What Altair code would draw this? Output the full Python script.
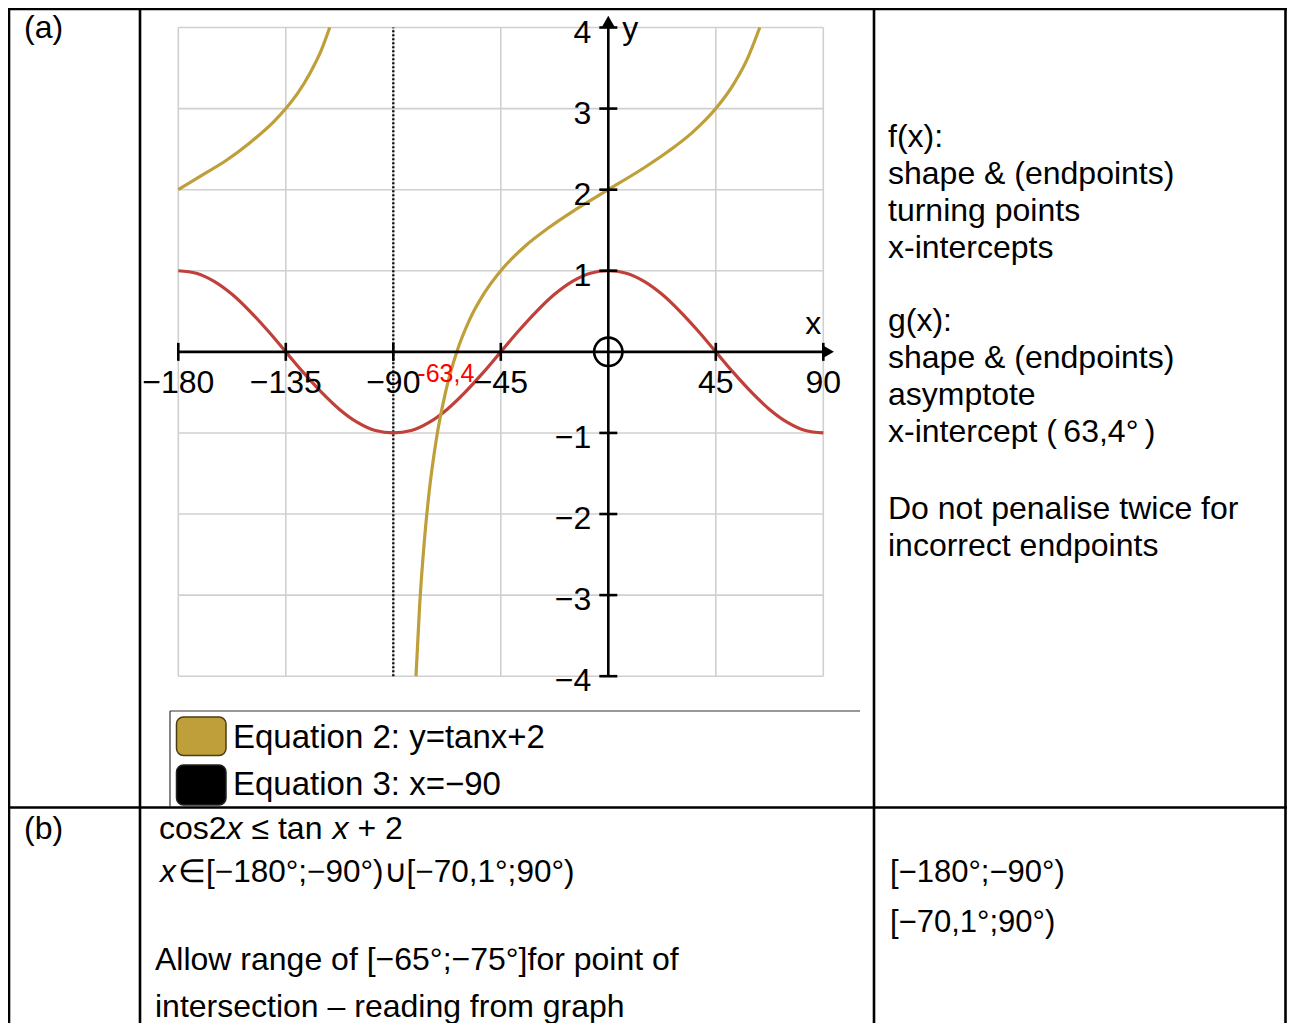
import altair as alt
import pandas as pd

# ---------------- data ----------------
grid_x = [-180, -135, -90, -45, 0, 45, 90]
grid_y = [-4, -3, -2, -1, 0, 1, 2, 3, 4]
xtick_vals = [-180, -135, -90, -45, 45, 90]
xtick_labels = ["−180", "−135", "−90", "−45", "45", "90"]
ytick_vals = [4, 3, 2, 1, -1, -2, -3, -4]
ytick_labels = ["4", "3", "2", "1", "−1", "−2", "−3", "−4"]

# f(x) = cos 2x (red curve)
cos_x = [-180, -172.5, -165, -157.5, -150, -142.5, -135, -127.5, -120, -112.5, -105, -97.5,
         -90, -82.5, -75, -67.5, -60, -52.5, -45, -37.5, -30, -22.5, -15, -7.5,
         0, 7.5, 15, 22.5, 30, 37.5, 45, 52.5, 60, 67.5, 75, 82.5, 90]
cos_y = [1.0, 0.97, 0.87, 0.71, 0.5, 0.26, 0.0, -0.26, -0.5, -0.71, -0.87, -0.97,
         -1.0, -0.97, -0.87, -0.71, -0.5, -0.26, 0.0, 0.26, 0.5, 0.71, 0.87, 0.97,
         1.0, 0.97, 0.87, 0.71, 0.5, 0.26, 0.0, -0.26, -0.5, -0.71, -0.87, -0.97, -1.0]

# g(x) = tan x + 2 (gold curve), two branches
tan_left_x = [-180, -170, -160, -150, -140, -135, -130, -125, -120, -116.6]
tan_left_y = [2.0, 2.18, 2.36, 2.58, 2.84, 3.0, 3.19, 3.43, 3.73, 4.0]
tan_right_x = [-80.5, -79, -77, -75, -72, -68, -63.4, -58, -52, -45, -35, -25,
               -15, 0, 15, 25, 35, 45, 52, 58, 63.4]
tan_right_y = [-4.0, -3.14, -2.33, -1.73, -1.08, -0.48, 0.0, 0.40, 0.72, 1.0,
               1.30, 1.53, 1.73, 2.0, 2.27, 2.47, 2.70, 3.0, 3.28, 3.60, 4.0]

asymptote_x = [-90]
intercept_x = [-63.4]
intercept_label = ["-63,4"]

legend_labels = ["Equation 2: y=tanx+2", "Equation 3: x=−90"]

f_lines = ["f(x):", "shape & (endpoints)", "turning points", "x-intercepts"]
g_lines = ["g(x):", "shape & (endpoints)", "asymptote", "x-intercept (\u200963,4°\u2009)"]
note_lines = ["Do not penalise twice for", "incorrect endpoints"]
part_a = "(a)"
part_b = "(b)"
ineq_parts = ["cos2", "x", "≤ tan", "x", "+ 2"]
set_parts = ["x", "∈[−180°;−90°)∪[−70,1°;90°)"]
allow_lines = ["Allow range of [−65°;−75°]for point of", "intersection – reading from graph"]
right_bottom_lines = ["[−180°;−90°)", "[−70,1°;90°)"]

# ---------------- styles ----------------
SANS = "Liberation Sans, Arial, sans-serif"
FS = 32
GOLD = "#BF9F3A"
RED = "#C0403A"
GRID = "#D0D0D0"

XS = alt.Scale(domain=[-180, 90], range=[170.3, 815.3], nice=False, zero=False)
YS = alt.Scale(domain=[-4, 4], range=[668.2, 19.5], nice=False, zero=False)

def X(f):
    return alt.X(f, type="quantitative", scale=XS, axis=None)

def Y(f):
    return alt.Y(f, type="quantitative", scale=YS, axis=None)

one = pd.DataFrame({"k": [0]})

# ---------------- plot layers ----------------
vgrid = pd.DataFrame({"gx": grid_x, "lo": [-4] * len(grid_x), "hi": [4] * len(grid_x)})
hgrid = pd.DataFrame({"gy": grid_y, "lo": [-180] * len(grid_y), "hi": [90] * len(grid_y)})

vgrid_l = alt.Chart(vgrid).mark_rule(color=GRID, strokeWidth=1.6).encode(
    x=X("gx"), y=Y("lo"), y2="hi")
hgrid_l = alt.Chart(hgrid).mark_rule(color=GRID, strokeWidth=1.6).encode(
    y=Y("gy"), x=X("lo"), x2="hi")

asym = pd.DataFrame({"ax": asymptote_x, "lo": [-4], "hi": [4]})
asym_l = alt.Chart(asym).mark_rule(color="#111", strokeWidth=2.4, strokeDash=[2, 2]).encode(
    x=X("ax"), y=Y("lo"), y2="hi")

xaxis = pd.DataFrame({"x0": [-180], "x1": [90], "y0": [0]})
yaxis = pd.DataFrame({"y0": [-4], "y1": [4], "x0": [0]})
xaxis_l = alt.Chart(xaxis).mark_rule(color="black", strokeWidth=2.6).encode(
    x=X("x0"), x2="x1", y=Y("y0"))
yaxis_l = alt.Chart(yaxis).mark_rule(color="black", strokeWidth=2.6).encode(
    y=Y("y0"), y2="y1", x=X("x0"))

xarrow_l = alt.Chart(pd.DataFrame({"x": [90], "y": [0]})).mark_point(
    shape="triangle-right", filled=True, size=170, color="black", opacity=1, xOffset=5).encode(
    x=X("x"), y=Y("y"))
yarrow_l = alt.Chart(pd.DataFrame({"x": [0], "y": [4]})).mark_point(
    shape="triangle-up", filled=True, size=170, color="black", opacity=1, yOffset=-6).encode(
    x=X("x"), y=Y("y"))

xt = pd.DataFrame({"x": xtick_vals, "lab": xtick_labels, "y": [0] * len(xtick_vals)})
yt = pd.DataFrame({"y": ytick_vals, "lab": ytick_labels, "x": [0] * len(ytick_vals)})

xtick_l = alt.Chart(xt).mark_tick(orient="vertical", size=18, thickness=2.6, color="black",
                                  opacity=1).encode(x=X("x"), y=Y("y"))
ytick_l = alt.Chart(yt).mark_tick(orient="horizontal", size=18, thickness=2.6, color="black",
                                  opacity=1).encode(x=X("x"), y=Y("y"))

xlab_l = alt.Chart(xt).mark_text(font=SANS, fontSize=FS, color="black", align="center",
                                 baseline="alphabetic", dy=41).encode(
    x=X("x"), y=Y("y"), text="lab:N")
ylab_l = alt.Chart(yt).mark_text(font=SANS, fontSize=FS, color="black", align="right",
                                 baseline="alphabetic", dx=-17, dy=15).encode(
    x=X("x"), y=Y("y"), text="lab:N")

yname_l = alt.Chart(pd.DataFrame({"x": [0], "y": [4], "t": ["y"]})).mark_text(
    font=SANS, fontSize=FS, align="left", baseline="alphabetic", dx=14, dy=11).encode(
    x=X("x"), y=Y("y"), text="t:N")
xname_l = alt.Chart(pd.DataFrame({"x": [90], "y": [0], "t": ["x"]})).mark_text(
    font=SANS, fontSize=FS, align="center", baseline="alphabetic", dx=-10, dy=-18).encode(
    x=X("x"), y=Y("y"), text="t:N")

origin_l = alt.Chart(pd.DataFrame({"x": [0], "y": [0]})).mark_point(
    shape="circle", size=804, filled=False, strokeWidth=2.6, color="black", opacity=1).encode(
    x=X("x"), y=Y("y"))

cos_df = pd.DataFrame({"x": cos_x, "y": cos_y})
cos_l = alt.Chart(cos_df).mark_line(color=RED, strokeWidth=3.2, interpolate="monotone").encode(
    x=X("x"), y=Y("y"), order="x:Q")

tan_df = pd.DataFrame({
    "x": tan_left_x + tan_right_x,
    "y": tan_left_y + tan_right_y,
    "b": ["L"] * len(tan_left_x) + ["R"] * len(tan_right_x),
})
tan_l = alt.Chart(tan_df).mark_line(color=GOLD, strokeWidth=3.2, interpolate="monotone").encode(
    x=X("x"), y=Y("y"), detail="b:N", order="x:Q")

icpt_l = alt.Chart(pd.DataFrame({"x": intercept_x, "y": [0], "t": intercept_label})).mark_text(
    font=SANS, fontSize=25, color="#FF0000", align="center", baseline="alphabetic",
    dx=-11, dy=30).encode(x=X("x"), y=Y("y"), text="t:N")

# ---------------- table and annotations (page layout) ----------------
def rule(x, y, x2=None, y2=None, w=2.6, color="black"):
    enc = dict(x=alt.value(x), y=alt.value(y))
    if x2 is not None:
        enc["x2"] = alt.value(x2)
    if y2 is not None:
        enc["y2"] = alt.value(y2)
    return alt.Chart(one).mark_rule(color=color, strokeWidth=w).encode(**enc)

def text(lines, x, y, size=FS, color="black", lh=37, style="normal"):
    return alt.Chart(one).mark_text(text=lines, font=SANS, fontSize=size, color=color,
                                    fontStyle=style, align="left", baseline="alphabetic",
                                    lineHeight=lh).encode(
        x=alt.value(x), y=alt.value(y))

W, H = 1279, 1015
table = [
    rule(0, 1, x2=W),
    rule(0, 799.5, x2=W),
    rule(1, 0, y2=H),
    rule(132, 0, y2=H),
    rule(866, 0, y2=H),
    rule(1277.5, 0, y2=H),
    # legend box edges
    rule(162, 703, x2=852, w=1.2, color="#333"),
    rule(162, 703, y2=799, w=1.2, color="#333"),
]

sw_gold = alt.Chart(one).mark_rect(fill=GOLD, stroke="#4a3c14", strokeWidth=1.5,
                                   cornerRadius=7).encode(
    x=alt.value(168.5), x2=alt.value(218), y=alt.value(709), y2=alt.value(747.5))
sw_black = alt.Chart(one).mark_rect(fill="black", stroke="#222", strokeWidth=1.5,
                                    cornerRadius=7).encode(
    x=alt.value(168.5), x2=alt.value(218), y=alt.value(757), y2=alt.value(797))

# inequality line: upright pieces and italic x
ineq_x = [151, 218.6, 243.5, 324.5, 349.4]
ineq = [text([p], xx, 831, style=("italic" if p == "x" else "normal"))
        for p, xx in zip(ineq_parts, ineq_x)]

texts = [
    text([part_a], 16, 30),
    text(f_lines, 880, 139, lh=37),
    text(g_lines, 880, 323, lh=37),
    text(note_lines, 880, 511, lh=37),
    text([legend_labels[0]], 225, 740, size=33),
    text([legend_labels[1]], 225, 787, size=33),
    text([part_b], 16, 831),
    *ineq,
    text([set_parts[0]], 152, 874, size=31.5, style="italic"),
    text([set_parts[1]], 170, 874, size=31.5),
    text(allow_lines, 147, 962, lh=47),
    text(right_bottom_lines, 882, 874, size=31, lh=50),
]

chart = alt.layer(
    vgrid_l, hgrid_l, asym_l, cos_l, tan_l, xaxis_l, yaxis_l, xarrow_l, yarrow_l,
    xtick_l, ytick_l, origin_l, xlab_l, ylab_l, yname_l, xname_l, icpt_l,
    *table, sw_gold, sw_black, *texts,
).properties(width=W, height=H, autosize="none", padding=0, background="white"
).configure_view(strokeWidth=0)

chart.save("out.html", embed_options={"renderer": "svg", "actions": False})
